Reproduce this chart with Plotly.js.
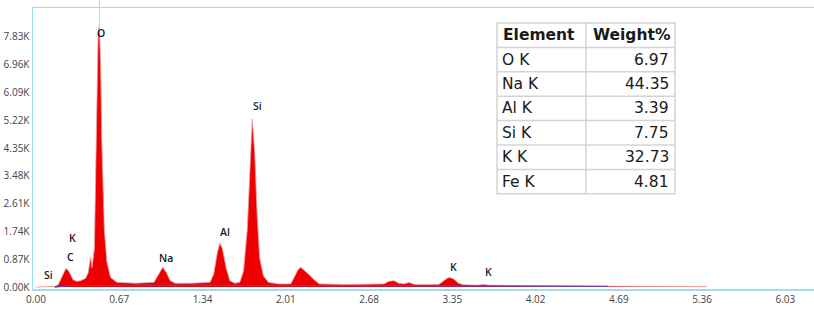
<!DOCTYPE html>
<html><head><meta charset="utf-8">
<script src="https://cdn.plot.ly/plotly-3.0.1.min.js"></script>
<style>html,body{margin:0;padding:0;background:#fff;}#chart{width:814px;height:316px;}</style>
</head><body><div id="chart"></div>
<script>
// Spectrum (energy keV, counts in thousands)
const energy = [0.00,0.10,0.15,0.18,0.20,0.22,0.24,0.26,0.28,0.30,0.33,0.36,0.40,0.42,0.44,0.45,0.47,0.48,0.49,0.50,0.51,0.52,0.53,0.54,0.55,0.57,0.60,0.65,0.80,0.95,0.98,1.02,1.05,1.08,1.12,1.25,1.40,1.43,1.46,1.48,1.50,1.53,1.56,1.60,1.64,1.67,1.70,1.72,1.74,1.76,1.78,1.80,1.83,1.87,1.95,2.05,2.08,2.11,2.13,2.16,2.20,2.24,2.28,2.50,2.80,2.84,2.88,2.92,2.96,3.00,3.02,3.05,3.24,3.28,3.31,3.33,3.36,3.40,3.44,3.55,3.60,3.65,3.80,4.00,4.50,5.00,5.40];
const counts = [0.00,0.00,0.02,0.08,0.25,0.45,0.58,0.52,0.35,0.22,0.18,0.20,0.28,0.45,0.95,0.60,1.20,3.50,6.00,7.90,8.20,7.00,4.50,3.00,1.80,0.80,0.30,0.15,0.12,0.15,0.35,0.62,0.45,0.20,0.12,0.12,0.15,0.40,1.10,1.38,1.20,0.60,0.20,0.12,0.15,0.50,1.80,3.80,5.25,4.20,2.20,0.90,0.35,0.15,0.10,0.10,0.35,0.55,0.62,0.52,0.38,0.22,0.10,0.08,0.10,0.18,0.20,0.12,0.10,0.14,0.12,0.08,0.08,0.18,0.28,0.30,0.25,0.12,0.07,0.06,0.08,0.06,0.05,0.04,0.03,0.02,0.01];
// Background fit line
const bgEnergy = [0.15,0.30,1.00,2.00,3.00,4.00,4.60];
const bgCounts = [0.00,0.05,0.06,0.05,0.04,0.03,0.02];
// Axis ticks
const xTicks = [0.00,0.67,1.34,2.01,2.68,3.35,4.02,4.69,5.36,6.03];
const yTicks = [0,0.87,1.74,2.61,3.48,4.35,5.22,6.09,6.96,7.83];
const yTickText = ["0.00K","0.87K","1.74K","2.61K","3.48K","4.35K","5.22K","6.09K","6.96K","7.83K"];
// Peak labels
const peakNames = ["Si","C","K","O","Na","Al","Si","K","K"];
const peakX = [0.10,0.28,0.29,0.52,1.05,1.52,1.78,3.36,3.64];
const peakY = [0.38,0.94,1.53,7.95,0.91,1.72,5.67,0.63,0.47];
// Table
const tableHeader = ["Element","Weight%"];
const elements = ["O K","Na K","Al K","Si K","K K","Fe K"];
const weights = ["6.97","44.35","3.39","7.75","32.73","4.81"];

// pixel -> paper helpers (plot area: left 33, top 8, width 781, height 281)
const L=33, T=8, W=781, H=281;
const px = v => (v-L)/W;
const py = v => 1-(v-T)/H;

const traces = [
  {type:'scatter', x:energy, y:counts, mode:'lines', fill:'tozeroy',
   fillcolor:'#ee0000', line:{color:'#e8a0a0', width:0.8}, hoverinfo:'skip'},
  {type:'scatter', x:bgEnergy, y:bgCounts, mode:'lines',
   line:{color:'#6a3fa8', width:1.2}, hoverinfo:'skip'}
];

const annotations = peakNames.map((t,i)=>({x:peakX[i], y:peakY[i], xref:'x', yref:'y',
  text:t, showarrow:false, font:{family:'"Open Sans", sans-serif', size:10.5, weight:600, color:'#1a1a1a'}}));

// table drawing
const tL=497, tR=675, tC=586, tTop=23, rowH=24.4;
const nRows = elements.length+1;
const shapes = [];
shapes.push({type:'rect', xref:'paper', yref:'paper', x0:px(tL), x1:px(tR), y0:py(tTop), y1:py(tTop+nRows*rowH),
  fillcolor:'#ffffff', line:{color:'#d4d4d4', width:1.5}, layer:'above'});
for(let r=1;r<nRows;r++){
  shapes.push({type:'line', xref:'paper', yref:'paper', x0:px(tL), x1:px(tR), y0:py(tTop+r*rowH), y1:py(tTop+r*rowH),
    line:{color:'#d4d4d4', width:1.5}, layer:'above'});
}
shapes.push({type:'line', xref:'paper', yref:'paper', x0:px(tC), x1:px(tC), y0:py(tTop), y1:py(tTop+nRows*rowH),
  line:{color:'#d4d4d4', width:1.5}, layer:'above'});
shapes.push({type:'line', xref:'x', yref:'paper', x0:0.51, x1:0.51, y0:0.93, y1:1.03,
  line:{color:'#9fe6f0', width:1}});

const tFont = {family:'"DejaVu Sans", sans-serif', size:15.5, color:'#1a1a1a'};
annotations.push({xref:'paper', yref:'paper', x:px(tL+4), y:py(tTop+rowH/2), xanchor:'left', yanchor:'middle',
  text:'<b>'+tableHeader[0]+'</b>', showarrow:false, font:tFont});
annotations.push({xref:'paper', yref:'paper', x:px(tC+5), y:py(tTop+rowH/2), xanchor:'left', yanchor:'middle',
  text:'<b>'+tableHeader[1]+'</b>', showarrow:false, font:tFont});
elements.forEach((e,i)=>{
  const yc = py(tTop+(i+1.5)*rowH);
  annotations.push({xref:'paper', yref:'paper', x:px(tL+3), y:yc, xanchor:'left', yanchor:'middle',
    text:e, showarrow:false, font:tFont});
  annotations.push({xref:'paper', yref:'paper', x:px(tR-4), y:yc, xanchor:'right', yanchor:'middle',
    text:weights[i], showarrow:false, font:tFont});
});

const layout = {
  width:814, height:316,
  margin:{l:L, r:0, t:T, b:27},
  paper_bgcolor:'#fff', plot_bgcolor:'#fff',
  showlegend:false,
  xaxis:{range:[-0.024,6.26], tickvals:xTicks, ticktext:xTicks.map(v=>v.toFixed(2)),
    showgrid:false, zeroline:false, showline:true, mirror:true, linecolor:'#9fdcf0', linewidth:1.5,
    ticks:'', tickfont:{family:'"Open Sans", sans-serif', size:10, color:'#444'}},
  yaxis:{range:[-0.06,8.73], tickvals:yTicks, ticktext:yTickText,
    showgrid:false, zeroline:false, showline:true, mirror:false, linecolor:'#9fdcf0', linewidth:1.5,
    ticks:'', tickfont:{family:'"Open Sans", sans-serif', size:10, color:'#444'}},
  shapes:shapes,
  annotations:annotations
};
Plotly.newPlot('chart', traces, layout, {displayModeBar:false, staticPlot:true});
</script></body></html>
